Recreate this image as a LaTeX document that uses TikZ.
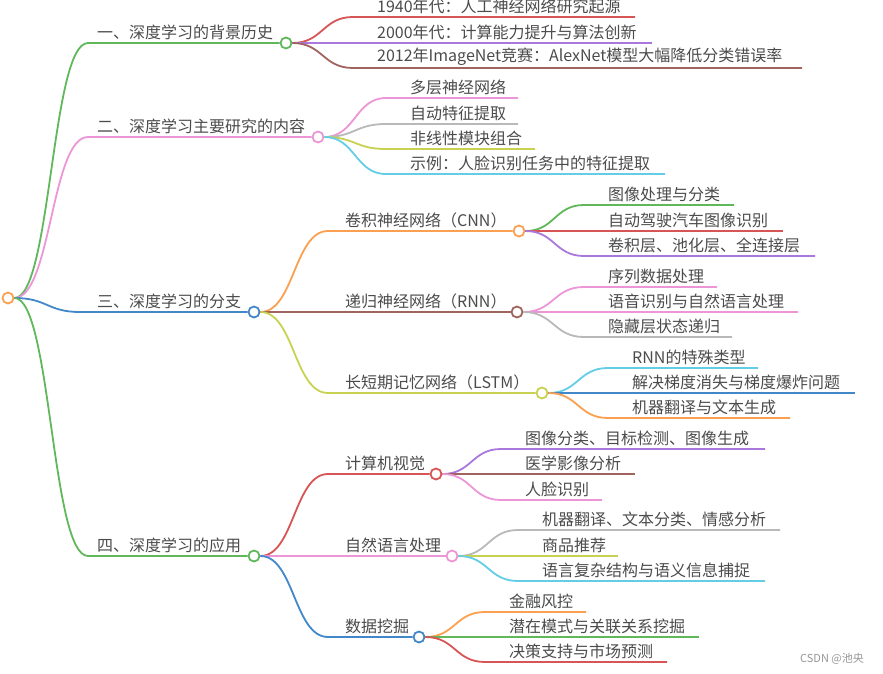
\documentclass[tikz,border=0pt]{standalone}
\usepackage{fontspec}
\newfontfamily\cjk{Noto Sans CJK SC}
\usetikzlibrary{calc}
\definecolor{cgreen}{RGB}{96,184,90}
\definecolor{cpink}{RGB}{236,150,215}
\definecolor{cblue}{RGB}{66,135,200}
\definecolor{corange}{RGB}{250,160,80}
\definecolor{cred}{RGB}{215,85,85}
\definecolor{cpurple}{RGB}{170,120,220}
\definecolor{cbrown}{RGB}{160,100,95}
\definecolor{cgray}{RGB}{185,185,185}
\definecolor{cyell}{RGB}{200,210,80}
\definecolor{ccyan}{RGB}{100,205,230}
\definecolor{ctext}{RGB}{75,75,75}
\tikzset{
  edge/.style={line width=1.8pt},
  knot/.style={circle,draw,fill=white,line width=1.8pt,minimum size=11pt,inner sep=0pt},
  lbl/.style={anchor=west,inner sep=0pt,text=ctext,font=\cjk\fontsize{16}{16}\selectfont},
  sbend/.style={to path={.. controls ($(\tikztostart)!0.5!(\tikztostart -| \tikztotarget)$) and ($(\tikztotarget)!0.5!(\tikztotarget -| \tikztostart)$) .. (\tikztotarget) \tikztonodes}}
}
\newcommand\mmleaf[7]{%
  \coordinate (#1s) at ({#5-24},#4);
  \coordinate (#1e) at (#6,#4);
  \node[lbl] (#1) at (#5,{#4-11}) {#7};
  \draw[edge,#3] (#2.east) to[sbend] (#1s) -- (#1e);
}
\newcommand\mmbranch[7]{% name parent color y startx circx text
  \coordinate (#1s) at (#5,#4);
  \node[knot,draw=#3] (#1) at (#6,#4) {};
  \node[lbl] (#1t) at ({#5+17},{#4-11}) {#7};
  \draw[edge,#3] (#2.east) to[sbend] (#1s) -- (#1.west);
}
\begin{document}
\begin{tikzpicture}[x=1pt,y=-1pt]
\useasboundingbox (0,0) rectangle (883,674);
\clip (0,0) rectangle (883,674);
\node[knot,draw=corange] (root) at (8,298) {};
% level 1
\coordinate (b1s) at (88,43);
\node[knot,draw=cgreen] (b1) at (286,43) {};
\node[lbl] (b1t) at (97,32) {一、深度学习的背景历史};
\draw[edge,cgreen] (root.east) to[sbend] (b1s) -- (b1.west);
\coordinate (b2s) at (88,137);
\node[knot,draw=cpink] (b2) at (318,137) {};
\node[lbl] (b2t) at (97,126) {二、深度学习主要研究的内容};
\draw[edge,cpink] (root.east) to[sbend] (b2s) -- (b2.west);
\coordinate (b3s) at (80,312);
\node[knot,draw=cblue] (b3) at (254,312) {};
\node[lbl] (b3t) at (97,301) {三、深度学习的分支};
\draw[edge,cblue] (root.east) to[sbend] (b3s) -- (b3.west);
\coordinate (b4s) at (88,556);
\node[knot,draw=cgreen] (b4) at (254,556) {};
\node[lbl] (b4t) at (97,545) {四、深度学习的应用};
\draw[edge,cgreen] (root.east) to[sbend] (b4s) -- (b4.west);
% branch 1 leaves
\mmleaf{la}{b1}{cred}{17}{377}{635}{1940年代：人工神经网络研究起源}
\mmleaf{lb}{b1}{cpurple}{43}{377}{652}{2000年代：计算能力提升与算法创新}
\mmleaf{lc}{b1}{cbrown}{68}{377}{802}{2012年ImageNet竞赛：AlexNet模型大幅降低分类错误率}
% branch 2 leaves
\mmleaf{ld}{b2}{cpink}{98}{410}{518}{多层神经网络}
\mmleaf{le}{b2}{cgray}{124}{410}{518}{自动特征提取}
\mmleaf{lf}{b2}{cyell}{149}{410}{535}{非线性模块组合}
\mmleaf{lg}{b2}{ccyan}{174}{410}{665}{示例：人脸识别任务中的特征提取}
% branch 3 subs
\mmbranch{cnn}{b3}{corange}{231}{328}{519}{卷积神经网络（CNN）}
\mmbranch{rnn}{b3}{cbrown}{312}{328}{517}{递归神经网络（RNN）}
\mmbranch{lstm}{b3}{cyell}{393}{328}{542}{长短期记忆网络（LSTM）}
\mmleaf{lh}{cnn}{cgreen}{205}{608}{734}{图像处理与分类}
\mmleaf{li}{cnn}{cred}{231}{608}{783}{自动驾驶汽车图像识别}
\mmleaf{lj}{cnn}{cpurple}{256}{608}{815}{卷积层、池化层、全连接层}
\mmleaf{lk}{rnn}{cpink}{287}{608}{717}{序列数据处理}
\mmleaf{ll}{rnn}{cpink}{312}{608}{798}{语音识别与自然语言处理}
\mmleaf{lm}{rnn}{cgray}{337}{608}{732}{隐藏层状态递归}
\mmleaf{ln}{lstm}{ccyan}{368}{632}{758}{RNN的特殊类型}
\mmleaf{lo}{lstm}{cblue}{393}{632}{855}{解决梯度消失与梯度爆炸问题}
\mmleaf{lp}{lstm}{corange}{418}{632}{790}{机器翻译与文本生成}
% branch 4 subs
\mmbranch{cv}{b4}{cred}{474}{328}{436}{计算机视觉}
\mmbranch{nlp}{b4}{cpink}{556}{328}{452}{自然语言处理}
\mmbranch{dm}{b4}{cblue}{637}{328}{419}{数据挖掘}
\mmleaf{lq}{cv}{cpurple}{449}{525}{765}{图像分类、目标检测、图像生成}
\mmleaf{lr}{cv}{cbrown}{474}{525}{635}{医学影像分析}
\mmleaf{ls}{cv}{cpink}{500}{525}{602}{人脸识别}
\mmleaf{lt}{nlp}{cgray}{530}{542}{780}{机器翻译、文本分类、情感分析}
\mmleaf{lu}{nlp}{cyell}{556}{542}{618}{商品推荐}
\mmleaf{lv}{nlp}{ccyan}{581}{542}{765}{语言复杂结构与语义信息捕捉}
\mmleaf{lw}{dm}{corange}{612}{509}{586}{金融风控}
\mmleaf{lx}{dm}{cgreen}{637}{509}{699}{潜在模式与关联关系挖掘}
\mmleaf{ly}{dm}{cred}{662}{509}{667}{决策支持与市场预测}
\node[anchor=west,inner sep=0pt,text={rgb,255:red,150;green,150;blue,150},font=\cjk\fontsize{11}{11}\selectfont] (wm) at (800,659) {CSDN @池央};
\end{tikzpicture}
\end{document}
